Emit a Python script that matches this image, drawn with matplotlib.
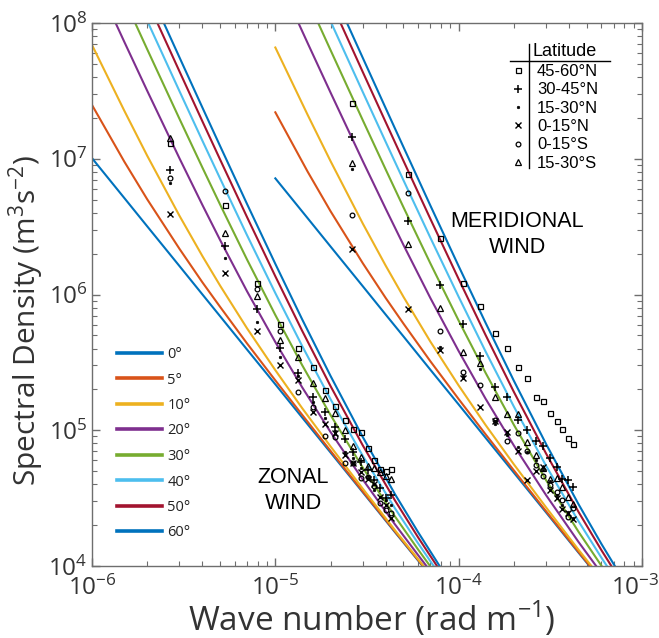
import numpy as np
import matplotlib
matplotlib.use("Agg")
import matplotlib.pyplot as plt
from matplotlib.lines import Line2D
from matplotlib.transforms import ScaledTranslation

plt.rcParams['font.family'] = ['Open Sans', 'DejaVu Sans']
plt.rcParams['axes.unicode_minus'] = False

# ---------------------------------------------------------------
# model spectra, one curve per latitude, sampled along each curve
lat_labels = ['0°', '5°', '10°', '20°', '30°', '40°', '50°', '60°']
lat_colors = ['#0072BD', '#D95319', '#EDB120', '#7E2F8E',
              '#77AC30', '#4DBEEE', '#A2142F', '#0072BD']

zonal_k = [1e-6, 1.5e-6, 2e-6, 3e-6, 4e-6, 5e-6, 7e-6,
           1e-5, 1.4e-5, 2e-5, 3e-5, 4.5e-5, 6e-5, 8e-5]
zonal_S = [
    [1.01e7, 5.14e6, 3.18e6, 1.62e6, 1.002e6, 6.91e5, 3.94e5,
     2.18e5, 1.242e5, 6.86e4, 3.49e4, 1.77e4, 1.10e4, 6.80e3],
    [2.49e7, 9.53e6, 5.03e6, 2.17e6, 1.23e6, 8.10e5, 4.37e5,
     2.33e5, 1.30e5, 7.05e4, 3.54e4, 1.79e4, 1.11e4, 6.83e3],
    [6.89e7, 2.26e7, 1.053e7, 3.80e6, 1.92e6, 1.161e6, 5.65e5,
     2.77e5, 1.456e5, 7.60e4, 3.71e4, 1.83e4, 1.127e4, 6.92e3],
    [2.382e8, 7.27e7, 3.169e7, 1.007e7, 4.57e6, 2.516e6, 1.059e6,
     4.46e5, 2.074e5, 9.71e4, 4.33e4, 2.02e4, 1.206e4, 7.25e3],
    [4.976e8, 1.496e8, 6.41e7, 1.968e7, 8.62e6, 4.59e6, 1.815e6,
     7.06e5, 3.02e5, 1.295e5, 5.30e4, 2.31e4, 1.326e4, 7.75e3],
    [8.16e8, 2.44e8, 1.039e8, 3.146e7, 1.359e7, 7.14e6, 2.743e6,
     1.024e6, 4.18e5, 1.693e5, 6.47e4, 2.65e4, 1.473e4, 8.37e3],
    [1.154e9, 3.44e8, 1.462e8, 4.40e7, 1.888e7, 9.85e6, 3.73e6,
     1.362e6, 5.41e5, 2.116e5, 7.73e4, 3.03e4, 1.63e4, 9.04e3],
    [1.473e9, 4.38e8, 1.860e8, 5.58e7, 2.385e7, 1.239e7, 4.66e6,
     1.681e6, 6.57e5, 2.514e5, 8.91e4, 3.37e4, 1.78e4, 9.66e3],
]

merid_k = [1e-5, 1.5e-5, 2e-5, 3e-5, 4e-5, 5e-5, 7e-5,
           1e-4, 1.4e-4, 2e-4, 3e-4, 4.5e-4, 6e-4, 8e-4]
merid_S = [
    [7.17e6, 3.65e6, 2.258e6, 1.150e6, 7.11e5, 4.91e5, 2.797e5,
     1.548e5, 8.82e4, 4.87e4, 2.478e4, 1.257e4, 7.81e3, 4.83e3],
    [2.198e7, 8.04e6, 4.11e6, 1.699e6, 9.42e5, 6.10e5, 3.23e5,
     1.696e5, 9.36e4, 5.06e4, 2.53e4, 1.273e4, 7.88e3, 4.86e3],
    [6.60e7, 2.107e7, 9.61e6, 3.33e6, 1.63e6, 9.61e5, 4.51e5,
     2.136e5, 1.096e5, 5.61e4, 2.70e4, 1.32e4, 8.08e3, 4.95e3],
    [2.353e8, 7.12e7, 3.077e7, 9.60e6, 4.28e6, 2.316e6, 9.45e5,
     3.83e5, 1.713e5, 7.72e4, 3.32e4, 1.507e4, 8.87e3, 5.28e3],
    [4.947e8, 1.481e8, 6.32e7, 1.921e7, 8.33e6, 4.39e6, 1.701e6,
     6.42e5, 2.658e5, 1.096e5, 4.28e4, 1.792e4, 1.007e4, 5.78e3],
    [8.13e8, 2.424e8, 1.030e8, 3.10e7, 1.330e7, 6.94e6, 2.629e6,
     9.61e5, 3.82e5, 1.494e5, 5.46e4, 2.141e4, 1.154e4, 6.40e3],
    [1.1515e9, 3.428e8, 1.453e8, 4.35e7, 1.859e7, 9.65e6, 3.62e6,
     1.299e6, 5.05e5, 1.917e5, 6.72e4, 2.51e4, 1.311e4, 7.07e3],
    [1.470e9, 4.37e8, 1.851e8, 5.53e7, 2.356e7, 1.219e7, 4.54e6,
     1.617e6, 6.21e5, 2.315e5, 7.90e4, 2.861e4, 1.458e4, 7.69e3],
]

# ---------------------------------------------------------------
# observed spectra: harmonics n of the base wave number
harmonic = np.arange(1, 17)
dk_zonal = 2.66e-6
dk_merid = 2.63e-5

band_labels = ['45-60°N', '30-45°N', '15-30°N', '0-15°N', '0-15°S', '15-30°S']

zonal_obs = [
    [1.30e7, 4.56e6, 1.22e6, 6.06e5, 4.04e5, 2.94e5, 1.98e5, 1.51e5,
     1.20e5, 1.02e5, 9.66e4, 7.40e4, 6.04e4, 5.18e4, 5.04e4, 5.15e4],
    [8.26e6, 2.29e6, 7.78e5, 4.02e5, 2.64e5, 1.77e5, 1.37e5, 1.06e5,
     8.62e4, 6.92e4, 5.84e4, 5.10e4, 4.30e4, 3.74e4, 3.15e4, 3.33e4],
    [6.59e6, 1.87e6, 6.30e5, 3.48e5, 2.51e5, 1.62e5, 1.23e5, 9.87e4,
     6.95e4, 6.25e4, 5.27e4, 4.60e4, 3.63e4, 3.24e4, 3.06e4, 2.81e4],
    [3.90e6, 1.45e6, 5.41e5, 3.02e5, 2.35e5, 1.36e5, 1.11e5, 9.54e4,
     6.57e4, 5.71e4, 4.95e4, 4.37e4, 4.02e4, 3.24e4, 2.81e4, 2.26e4],
    [7.18e6, 5.82e6, 1.10e6, 5.38e5, 1.92e5, 1.48e5, 9.07e4, 8.92e4,
     5.77e4, 5.73e4, 4.43e4, 4.52e4, 3.88e4, 2.93e4, 2.58e4, 2.44e4],
    [1.41e7, 2.82e6, 9.75e5, 4.62e5, 3.46e5, 2.24e5, 1.73e5, 1.35e5,
     1.00e5, 7.66e4, 6.32e4, 5.45e4, 5.24e4, 4.93e4, 4.60e4, 4.41e4],
]

merid_obs = [
    [2.59e7, 7.68e6, 2.59e6, 1.22e6, 8.23e5, 5.23e5, 4.02e5, 2.91e5,
     2.44e5, 1.77e5, 1.65e5, 1.35e5, 1.16e5, 1.02e5, 8.72e4, 7.92e4],
    [1.45e7, 3.48e6, 1.17e6, 6.06e5, 3.52e5, 2.07e5, 1.76e5, 1.19e5,
     1.00e5, 8.33e4, 7.69e4, 6.25e4, 5.33e4, 4.35e4, 4.30e4, 3.82e4],
    [8.40e6, np.nan, 4.11e5, 2.51e5, 2.81e5, 1.11e5, 9.23e4, 7.53e4,
     6.92e4, 6.04e4, 5.10e4, 4.23e4, 3.33e4, 2.81e4, 2.50e4, 2.26e4],
    [2.15e6, 7.78e5, 3.90e5, 2.41e5, 1.49e5, 1.16e5, 9.76e4, 7.03e4,
     4.30e4, 5.01e4, 5.33e4, 3.63e4, 3.15e4, 2.63e4, 2.44e4, 2.22e4],
    [3.85e6, 5.62e6, 5.41e5, 2.69e5, 2.15e5, 1.20e5, 8.38e4, 9.54e4,
     7.09e4, 5.55e4, 4.64e4, 3.95e4, 3.48e4, 3.06e4, 2.28e4, 2.67e4],
    [9.30e6, 2.34e6, 7.95e5, 3.79e5, 3.11e5, 1.75e5, 1.31e5, 1.32e5,
     8.19e4, 6.52e4, 5.24e4, 4.35e4, 4.43e4, 3.79e4, 3.25e4, 2.86e4],
]

band_styles = [
    dict(marker='s', ms=3.6, mfc='none', mew=0.9),
    dict(marker='+', ms=5.5, mew=1.1),
    dict(marker='o', ms=1.8, mfc='k', mew=0.5),
    dict(marker='x', ms=3.8, mew=1.0),
    dict(marker='o', ms=3.4, mfc='none', mew=0.9),
    dict(marker='^', ms=4.5, mfc='none', mew=0.9),
]

# ---------------------------------------------------------------
W, H = 659, 638
fig = plt.figure(figsize=(W / 100, H / 100), dpi=100)
ax = fig.add_axes([92 / W, 1 - 566 / H, 550 / W, 543 / H])

line_handles = []
for i in range(len(lat_labels)):
    h, = ax.plot(zonal_k, zonal_S[i], color=lat_colors[i], lw=1.5,
                 label=lat_labels[i])
    ax.plot(merid_k, merid_S[i], color=lat_colors[i], lw=1.5)
    line_handles.append(h)

marker_handles = []
for j in range(len(band_labels)):
    k = np.concatenate([harmonic * dk_zonal, harmonic * dk_merid])
    S = np.concatenate([zonal_obs[j], merid_obs[j]])
    h, = ax.plot(k, S, ls='none', color='k', label=band_labels[j],
                 **band_styles[j])
    marker_handles.append(h)

ax.set_xscale('log')
ax.set_yscale('log')
ax.set_xlim(1e-6, 1e-3)
ax.set_ylim(1e4, 1e8)
ax.set_xticks([1e-6, 1e-5, 1e-4, 1e-3])
ax.set_yticks([1e4, 1e5, 1e6, 1e7, 1e8])

spine_col = '#6e6e6e'
for s in ax.spines.values():
    s.set_color(spine_col)
    s.set_linewidth(1.0)
ax.tick_params(which='both', direction='in', top=True, right=True,
               colors=spine_col, labelcolor='#333333')
ax.tick_params(which='major', length=6, width=1.0, labelsize=17.5, pad=7)
ax.tick_params(axis='y', which='major', pad=3)
ax.tick_params(which='minor', length=3.5, width=0.8)

# keep the last wave-number label inside the figure
last = ax.xaxis.get_majorticklabels()[-1]
last.set_transform(last.get_transform() +
                   ScaledTranslation(-5 / 72, 0, fig.dpi_scale_trans))

ax.set_xlabel(r'Wave number (rad m$^{\mathdefault{-1}}$)', fontsize=24,
              color='#333333')
ax.set_ylabel(r'Spectral Density (m$^{\mathdefault{3}}$s$^{\mathdefault{-2}}$)',
              fontsize=21.5, color='#333333')
ax.xaxis.set_label_coords(0.509, -0.097)
ax.xaxis.label.set_va('center')
ax.yaxis.set_label_coords(-0.118, 0.452)
ax.yaxis.label.set_va('center')

ax.text(0.366, 0.1385, 'ZONAL\nWIND', transform=ax.transAxes, ha='center',
        va='center', fontsize=15.5, family='Liberation Sans',
        linespacing=1.3)
ax.text(0.7736, 0.611, 'MERIDIONAL\nWIND', transform=ax.transAxes,
        ha='center', va='center', fontsize=15.5, family='Liberation Sans',
        linespacing=1.3)

# latitude legend for the model curves
leg1 = ax.legend(handles=line_handles, loc='upper left',
                 bbox_to_anchor=(117 / W, 1 - 347 / H),
                 bbox_transform=fig.transFigure, frameon=False,
                 fontsize=10.5, handlelength=3.1, handletextpad=0.35,
                 labelspacing=0.72, borderpad=0, borderaxespad=0)
for ln in leg1.get_lines():
    ln.set_linewidth(2.6)
for t in leg1.get_texts():
    t.set_color('#222222')
ax.add_artist(leg1)

# latitude-band legend for the observations, laid out as a small table
leg2 = ax.legend(handles=marker_handles, loc='upper left',
                 bbox_to_anchor=(510 / W, 1 - 64 / H),
                 bbox_transform=fig.transFigure, frameon=False,
                 prop={'family': 'Liberation Sans', 'size': 12},
                 handlelength=1.0, handletextpad=0.62,
                 labelspacing=0.2, borderpad=0, borderaxespad=0)
fig.text(533 / W, 1 - 52 / H, 'Latitude', family='Liberation Sans',
         fontsize=13, va='center', ha='left')
fig.add_artist(Line2D([510 / W, 610 / W], [1 - 61 / H, 1 - 61 / H],
                      transform=fig.transFigure, color='k', lw=1.0))
fig.add_artist(Line2D([529 / W, 529 / W], [1 - 44 / H, 1 - 168 / H],
                      transform=fig.transFigure, color='k', lw=1.0))

fig.savefig('out.png', dpi=100)
